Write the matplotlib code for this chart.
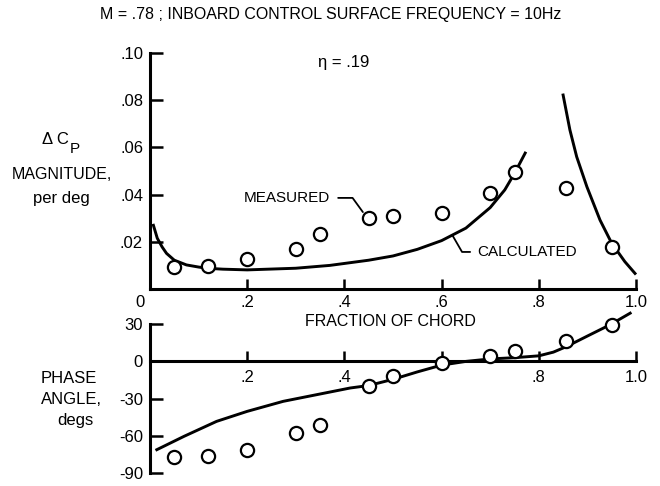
import matplotlib
matplotlib.use("Agg")
import matplotlib.pyplot as plt

plt.rcParams['font.family'] = ['Liberation Sans', 'DejaVu Sans']

# measured points (same chord stations for both panels)
chord_meas = [0.05, 0.12, 0.20, 0.30, 0.35, 0.45, 0.50, 0.60, 0.70, 0.75, 0.855, 0.95]
mag_meas = [0.0093, 0.0099, 0.0126, 0.0168, 0.0233, 0.0302, 0.0311, 0.0323,
            0.0408, 0.0494, 0.0427, 0.0179]
phase_meas = [-77.6, -76.8, -71.4, -57.9, -51.2, -19.6, -12.1, -1.3, 4.0, 8.1, 16.2, 29.1]

# calculated magnitude, forward branch
calc_x1 = [0.007, 0.015, 0.025, 0.034, 0.05, 0.075, 0.10, 0.117, 0.15, 0.20, 0.30, 0.37,
           0.45, 0.50, 0.55, 0.60, 0.65, 0.70, 0.73, 0.75, 0.772]
calc_mag1 = [0.027, 0.0215, 0.0178, 0.0151, 0.0122, 0.0102, 0.0093, 0.0088, 0.0084, 0.0081,
             0.0088, 0.0100, 0.0122, 0.0140, 0.0168, 0.0205, 0.0258, 0.0345, 0.0420, 0.0490,
             0.0576]
# calculated magnitude, hinge-line branch
calc_x2 = [0.850, 0.864, 0.878, 0.899, 0.926, 0.950, 0.977, 0.998]
calc_mag2 = [0.0822, 0.0674, 0.056, 0.0433, 0.0292, 0.0194, 0.0116, 0.0066]

# calculated phase
calc_xp = [0.014, 0.07, 0.137, 0.20, 0.274, 0.343, 0.412, 0.45, 0.50, 0.55, 0.60, 0.65,
           0.70, 0.75, 0.80, 0.83, 0.857, 0.90, 0.947, 0.988]
calc_phase = [-71.4, -60.6, -48.5, -40.4, -32.3, -26.9, -21.5, -19.5, -14.5, -8.5, -3.0, 0.0,
              2.0, 3.0, 4.5, 7.5, 12.0, 20.5, 29.7, 39.0]

x_ticks = [0.2, 0.4, 0.6, 0.8, 1.0]
x_labels = ['.2', '.4', '.6', '.8', '1.0']
mag_ticks = [0.02, 0.04, 0.06, 0.08, 0.10]
mag_labels = ['.02', '.04', '.06', '.08', '.10']
phase_ticks = [-90, -60, -30, 0, 30]
phase_labels = ['-90', '-60', '-30', '0', '30']

W, H = 660, 486


def px(x, y):
    return x / W, 1 - y / H


fig = plt.figure(figsize=(6.6, 4.86), dpi=100)

ax1 = fig.add_axes([150 / W, 1 - 289 / H, 486 / W, 236 / H])
ax2 = fig.add_axes([150 / W, 1 - 472.7 / H, 486 / W, 148.4 / H])

lw_axis = 2.2
for ax in (ax1, ax2):
    ax.set_xlim(0, 1.0)
    ax.spines['top'].set_visible(False)
    ax.spines['right'].set_visible(False)
    ax.spines['left'].set_linewidth(lw_axis)
    ax.spines['bottom'].set_linewidth(lw_axis)
    ax.tick_params(direction='in', width=1.8, length=9, labelsize=12, pad=5)
    ax.patch.set_alpha(0)

# magnitude panel
ax1.set_ylim(0, 0.10)
ax1.set_xticks(x_ticks, x_labels)
ax1.set_yticks(mag_ticks, mag_labels)
ax1.tick_params(axis='x', length=7, pad=4)
ax1.plot(calc_x1, calc_mag1, color='black', lw=2.1, clip_on=False)
ax1.plot(calc_x2, calc_mag2, color='black', lw=2.1, clip_on=False)
ax1.plot(chord_meas, mag_meas, 'o', ms=9.5, mfc='white', mec='black', mew=1.6,
         clip_on=False, zorder=3)
ax1.text(-0.02, -0.0025, '0', ha='center', va='top', fontsize=12)

# phase panel
ax2.set_ylim(-90, 30)
ax2.spines['bottom'].set_position(('data', 0))
ax2.set_xticks(x_ticks, ['.2', '.4', '', '.8', '1.0'])
ax2.set_yticks(phase_ticks, phase_labels)
ax2.tick_params(axis='x', length=7, pad=6)
ax2.plot(calc_xp, calc_phase, color='black', lw=2.1, clip_on=False)
ax2.plot(chord_meas, phase_meas, 'o', ms=9.5, mfc='white', mec='black', mew=1.6,
         clip_on=False, zorder=3)

# annotations with leader lines
ax1.annotate('MEASURED', xy=(0.438, 0.0326), xytext=(0.37, 0.0386),
             ha='right', va='center', fontsize=11,
             arrowprops=dict(arrowstyle='-', lw=1.3, color='black', shrinkA=4, shrinkB=0,
                             connectionstyle='angle,angleA=0,angleB=-54,rad=0'))
ax1.annotate('CALCULATED', xy=(0.623, 0.0225), xytext=(0.673, 0.0157),
             ha='left', va='center', fontsize=11,
             arrowprops=dict(arrowstyle='-', lw=1.3, color='black', shrinkA=3, shrinkB=0,
                             connectionstyle='angle,angleA=0,angleB=-60,rad=0'))

# texts
fig.text(*px(331, 15), 'M = .78 ; INBOARD CONTROL SURFACE FREQUENCY = 10Hz',
         ha='center', va='center', fontsize=11.5)
fig.text(*px(344, 63), 'η = .19', ha='center', va='center', fontsize=12)
fig.text(*px(390, 322), 'FRACTION OF CHORD', ha='center', va='center', fontsize=11.5)

fig.text(*px(55, 139), 'Δ C', ha='center', va='center', fontsize=12)
fig.text(*px(75, 149), 'P', ha='center', va='center', fontsize=11)
fig.text(*px(62, 174), 'MAGNITUDE,', ha='center', va='center', fontsize=11.5)
fig.text(*px(61, 198), 'per deg', ha='center', va='center', fontsize=12)

fig.text(*px(69, 378), 'PHASE', ha='center', va='center', fontsize=12)
fig.text(*px(71, 399), 'ANGLE,', ha='center', va='center', fontsize=12)
fig.text(*px(75, 420), 'degs', ha='center', va='center', fontsize=12)

fig.savefig('out.png', dpi=100)
